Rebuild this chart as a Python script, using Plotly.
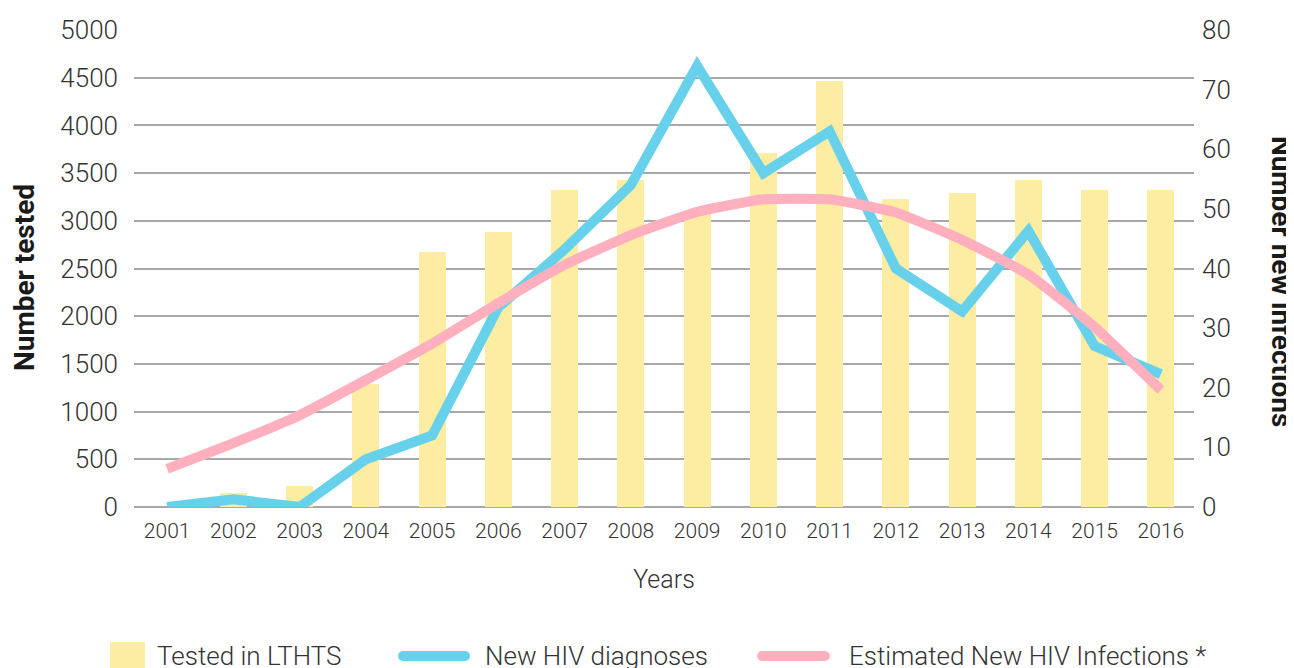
import plotly.graph_objects as pog

# data
years = ['2001', '2002', '2003', '2004', '2005', '2006', '2007', '2008',
         '2009', '2010', '2011', '2012', '2013', '2014', '2015', '2016']
tested = [0, 150, 220, 1290, 2670, 2880, 3320, 3430,
          3100, 3710, 4465, 3230, 3290, 3430, 3320, 3320]
new_diagnoses = [0, 1.3, 0, 8, 12, 33.5, 43.2, 54,
                 74, 56, 63, 40, 32.8, 46.3, 27, 22.3]
estimated_infections = [6.4, 10.7, 15.4, 21.3, 27.4, 34.2, 40.6, 45.6,
                        49.5, 51.6, 51.6, 49.4, 44.8, 39, 30.2, 19.6]
legend_names = ['Tested in LTHTS', 'New HIV diagnoses', 'Estimated New HIV Infections *']

text_col = '#333333'
font_fam = 'Roboto'
bar_col = '#FCEDA3'
blue_col = '#67D1EB'
pink_col = '#FFAFBD'

fig = pog.Figure()
fig.add_trace(pog.Bar(x=years, y=tested, name=legend_names[0],
                      marker=dict(color=bar_col, line=dict(width=0)),
                      width=0.41))
fig.add_trace(pog.Scatter(x=years, y=new_diagnoses, name=legend_names[1],
                          mode='lines', yaxis='y2',
                          line=dict(color=blue_col, width=10)))
fig.add_trace(pog.Scatter(x=years, y=estimated_infections, name=legend_names[2],
                          mode='lines', yaxis='y2',
                          line=dict(color=pink_col, width=10, shape='spline', smoothing=0.4)))

# hand-drawn legend along the bottom edge (paper coords)
shapes = [dict(type='rect', xref='paper', yref='paper', x0=-0.0226, x1=0.0104,
               y0=-0.3375, y1=-0.283, fillcolor=bar_col, line=dict(width=0))]
annotations = []
legend_y = -0.3124
for col, (xa, xb) in [(blue_col, (0.2538, 0.3123)), (pink_col, (0.5925, 0.6519))]:
    shapes.append(dict(type='line', xref='paper', yref='paper', x0=xa, x1=xb,
                       y0=legend_y, y1=legend_y, line=dict(color=col, width=10)))
    for xe in (xa, xb):
        shapes.append(dict(type='circle', xref='paper', yref='paper',
                           xsizemode='pixel', ysizemode='pixel',
                           xanchor=xe, yanchor=legend_y, x0=-5, x1=5, y0=-5, y1=5,
                           fillcolor=col, line=dict(width=0)))
for name, xt in zip(legend_names, [0.0198, 0.3292, 0.6726]):
    annotations.append(dict(text=name, xref='paper', yref='paper', x=xt, y=legend_y,
                            xanchor='left', yanchor='middle', showarrow=False,
                            font=dict(size=26, color=text_col, family=font_fam, weight=300)))

# axis titles
annotations.append(dict(text='<b>Number tested</b>', textangle=-90,
                        xref='paper', yref='paper', x=-0.1038, y=0.482,
                        xanchor='center', yanchor='middle', showarrow=False,
                        font=dict(size=28, color='#1a1a1a', family=font_fam, weight=700)))
annotations.append(dict(text='<b>Number new infections</b>', textangle=90,
                        xref='paper', yref='paper', x=1.0, xshift=87, y=0.474,
                        xanchor='center', yanchor='middle', showarrow=False,
                        font=dict(size=28, color='#1a1a1a', family=font_fam, weight=700)))

# the page body adds an 8px offset, so the figure is 8px smaller and margins shifted
fig.update_layout(
    width=1286, height=660,
    margin=dict(l=126, r=100, t=22, b=161),
    plot_bgcolor='white', paper_bgcolor='white',
    font=dict(family=font_fam, color=text_col, weight=300),
    showlegend=False,
    bargap=0,
    xaxis=dict(
        type='category', automargin=False,
        tickfont=dict(size=21, color=text_col),
        ticks='', ticklabelstandoff=9,
        showgrid=False, showline=False, zeroline=False,
        title=dict(text='Years', font=dict(size=25, color=text_col), standoff=28),
    ),
    yaxis=dict(
        range=[0, 5000], dtick=500, automargin=False,
        tickfont=dict(size=26, color=text_col),
        ticklabelstandoff=15,
        showgrid=True, gridcolor='#A8A8AA', gridwidth=1.5,
        zeroline=True, zerolinecolor='#A8A8AA', zerolinewidth=1.5,
        showline=False,
    ),
    yaxis2=dict(
        range=[0, 80], dtick=10, overlaying='y', side='right', automargin=False,
        tickfont=dict(size=26, color=text_col),
        ticklabelstandoff=7,
        showgrid=False, zeroline=False, showline=False,
    ),
    shapes=shapes,
    annotations=annotations,
)

fig.write_html("out.html")
